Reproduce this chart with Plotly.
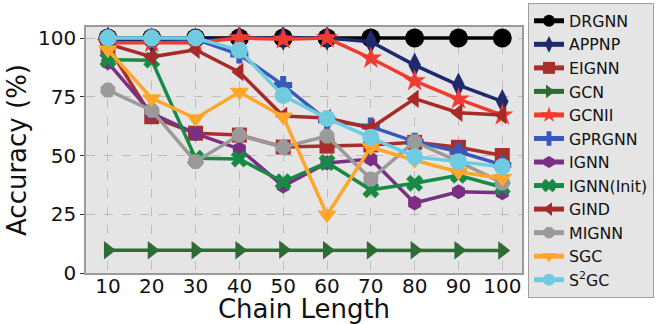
import plotly.graph_objects as go

chain_length = [10, 20, 30, 40, 50, 60, 70, 80, 90, 100]

DRGNN = [100, 100, 100, 100, 100, 100, 100, 100, 100, 100]
APPNP = [99.5, 98.5, 99, 100, 100, 100, 98.4, 88.5, 80, 73]
EIGNN = [96.5, 66.5, 59.5, 58.7, 53.6, 54, 54.5, 55.6, 53.5, 50]
GCN = [9.7, 9.7, 9.7, 9.7, 9.9, 9.7, 9.7, 9.7, 9.7, 9.6]
GCNII = [98, 98, 98, 100, 99.5, 100, 91.4, 81.8, 74, 67.2]
GPRGNN = [100, 100, 99.5, 93, 80, 65, 62.3, 55.9, 51.6, 46]
IGNN = [89.5, 68, 59.3, 52.8, 37, 46.8, 48.5, 29.8, 34.6, 34.2]
IGNN_init = [90.8, 90.6, 48.8, 48.5, 38.8, 47, 35.4, 38.2, 41.6, 36.5]
GIND = [97.5, 92, 95, 85.5, 66.8, 66, 61.7, 74.2, 68.2, 67.2]
MIGNN = [77.8, 69.2, 47.4, 58.7, 53.5, 58.3, 40, 55.9, 47.4, 38.4]
SGC = [95, 74.3, 65.8, 77, 66.5, 24.8, 53.5, 48, 43, 40.3]
S2GC = [100, 100, 100, 94.8, 75.5, 65.8, 57.8, 49.5, 47.4, 45.2]

y_ticks = [0, 25, 50, 75, 100]

series = [
    ("DRGNN", DRGNN, "#000000", "circle", 19),
    ("APPNP", APPNP, "#1f2a6e", "diamond-tall", 18),
    ("EIGNN", EIGNN, "#a8302c", "square", 15),
    ("GCN", GCN, "#2f6b35", "triangle-right", 16),
    ("GCNII", GCNII, "#f23b30", "star", 17),
    ("GPRGNN", GPRGNN, "#3a58b8", "cross", 15),
    ("IGNN", IGNN, "#7a2f85", "hexagon", 15),
    ("IGNN(Init)", IGNN_init, "#178a45", "x", 15),
    ("GIND", GIND, "#a82a28", "triangle-left", 16),
    ("MIGNN", MIGNN, "#9a9a9a", "octagon", 16),
    ("SGC", SGC, "#ffa62b", "triangle-down", 17),
    ("S<sup>2</sup>GC", S2GC, "#6fcbe0", "circle", 17),
]

fig = go.Figure()
for name, vals, color, sym, size in series:
    fig.add_trace(go.Scatter(
        x=chain_length, y=vals, name=name, mode="lines+markers",
        line=dict(color=color, width=3.5),
        marker=dict(symbol=sym, size=size, color=color, line=dict(width=0)),
    ))

font_family = "DejaVu Sans"
fig.update_layout(
    width=657, height=324,
    margin=dict(l=86, r=135, t=27, b=51, autoexpand=False),
    paper_bgcolor="white",
    plot_bgcolor="#e5e5e5",
    font=dict(family=font_family, color="#111111"),
    showlegend=True,
    legend=dict(
        xref="container", yref="container",
        x=528 / 657, y=1 - 3 / 324, xanchor="left", yanchor="top",
        bgcolor="#e5e5e5", bordercolor="#a0a0a0", borderwidth=1,
        font=dict(size=15.8, family=font_family, color="#111111"),
        itemsizing="constant", maxheight=320,
    ),
    xaxis=dict(
        range=[5, 104.5], tickvals=chain_length, automargin=False,
        tickfont=dict(size=20), ticks="", ticklabelstandoff=-6,
        showgrid=True, gridcolor="#bdbdbd", griddash="dash", gridwidth=1,
        showline=True, linecolor="#9a9a9a", linewidth=1.5, mirror=True,
        zeroline=False,
        title=dict(text="Chain Length", font=dict(size=26), standoff=4),
    ),
    yaxis=dict(
        range=[0, 104.7], tickvals=y_ticks, automargin=False,
        tickfont=dict(size=20), ticks="outside", ticklen=4, tickcolor="#333",
        showgrid=True, gridcolor="#bdbdbd", griddash="dash", gridwidth=1,
        showline=True, linecolor="#9a9a9a", linewidth=1.5, mirror=True,
        zeroline=False,
        title=dict(text="Accuracy (%)", font=dict(size=26), standoff=4),
    ),
)

fig.write_html(
    "out.html",
    config={"displayModeBar": False},
    post_script="document.body.style.margin='0';document.body.style.padding='0';",
)
